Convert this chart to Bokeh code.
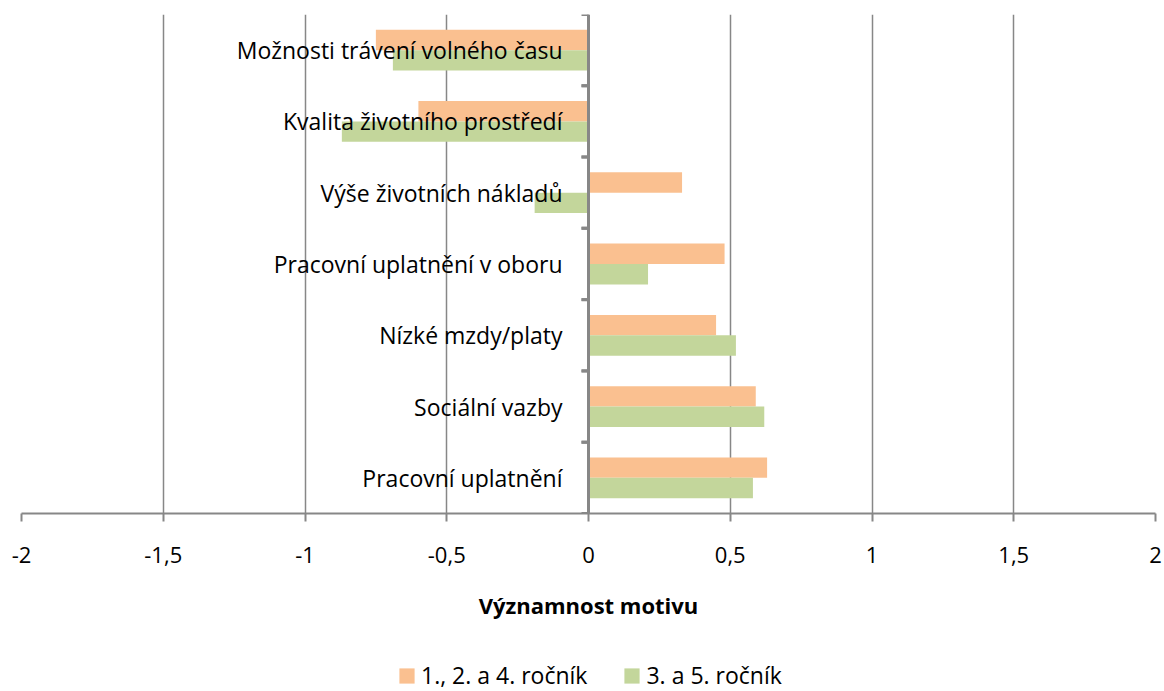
from bokeh.plotting import figure
from bokeh.layouts import column
from bokeh.models import (ColumnDataSource, FactorRange, Range1d, FixedTicker, Span,
                          Legend, LegendItem)
from bokeh.transform import dodge
from bokeh.core.properties import value
from bokeh.embed import file_html
from bokeh.resources import INLINE

# ---- data ----
categories = ["Pracovní uplatnění", "Sociální vazby", "Nízké mzdy/platy",
              "Pracovní uplatnění v oboru", "Výše životních nákladů",
              "Kvalita životního prostředí", "Možnosti trávení volného času"]
series1_name = "1., 2. a 4. ročník"
series2_name = "3. a 5. ročník"
series1 = [0.63, 0.59, 0.45, 0.48, 0.33, -0.60, -0.75]
series2 = [0.58, 0.62, 0.52, 0.21, -0.19, -0.87, -0.69]
tick_values = [-2, -1.5, -1, -0.5, 0, 0.5, 1, 1.5, 2]
tick_labels = ["-2", "-1,5", "-1", "-0,5", "0", "0,5", "1", "1,5", "2"]
x_title = "Významnost motivu"

FONT = "Open Sans"
FS = "22px"
FS_CAT = "23px"
GRAY = "#878787"
ORANGE = "#FAC090"
GREEN = "#C3D69B"

src = ColumnDataSource(dict(cat=categories, s1=series1, s2=series2))

p = figure(width=1164, height=640, output_backend="svg", toolbar_location=None,
           y_range=FactorRange(*categories, range_padding=0),
           x_range=Range1d(-2, 2),
           min_border_left=21, min_border_right=9, min_border_top=14,
           min_border_bottom=127)
p.outline_line_color = None
p.background_fill_color = "white"
p.border_fill_color = "white"

# grid
p.ygrid.visible = False
p.xgrid.ticker = FixedTicker(ticks=tick_values)
p.xgrid.grid_line_color = GRAY
p.xgrid.grid_line_width = 1.5

# axes
p.yaxis.visible = False
ax = p.xaxis[0]
ax.ticker = FixedTicker(ticks=tick_values)
ax.major_label_overrides = {v: l for v, l in zip(tick_values, tick_labels)}
ax.axis_line_color = GRAY
ax.axis_line_width = 2
ax.major_tick_line_color = GRAY
ax.major_tick_line_width = 2
ax.major_tick_out = 8
ax.major_tick_in = 0
ax.minor_tick_line_color = None
ax.major_label_standoff = 25
ax.major_label_text_font = FONT
ax.major_label_text_font_size = FS
ax.major_label_text_color = "black"
ax.axis_label = x_title
ax.axis_label_text_font = FONT
ax.axis_label_text_font_size = FS
ax.axis_label_text_font_style = "bold"
ax.axis_label_text_color = "black"
ax.axis_label_standoff = 24

bh = 0.286
r1 = p.hbar(y=dodge("cat", 0.143, range=p.y_range), left=0, right="s1", height=bh,
            source=src, fill_color=ORANGE, line_color=None)
r2 = p.hbar(y=dodge("cat", -0.143, range=p.y_range), left=0, right="s2", height=bh,
            source=src, fill_color=GREEN, line_color=None)

# zero axis with tick marks on the left
p.add_layout(Span(location=0, dimension="height", line_color=GRAY, line_width=3))
for off in (0.5, -0.5):
    p.ray(x=0, y=dodge("cat", off, range=p.y_range), length=7, length_units="screen",
          angle=3.14159265, source=src, line_color=GRAY, line_width=3)

# category labels next to the zero axis
p.text(x=0, y="cat", text="cat", source=src, x_offset=-26, y_offset=0,
       text_align="right", text_baseline="middle",
       text_font=value(FONT), text_font_size=FS_CAT, text_color="black")

# ---- legend strip below the chart ----
q = figure(width=1164, height=51, output_backend="svg", toolbar_location=None,
           x_range=Range1d(0, 1), y_range=Range1d(0, 1),
           min_border_left=0, min_border_right=0, min_border_top=0,
           min_border_bottom=0)
q.axis.visible = False
q.grid.visible = False
q.outline_line_color = None
# legend swatches only (the row lies outside the visible range)
swatch = ColumnDataSource(dict(y=[-5], l=[0], r=[0.1]))
g1 = q.hbar(y="y", left="l", right="r", height=0.1, source=swatch,
            fill_color=ORANGE, line_color=None)
g2 = q.hbar(y="y", left="l", right="r", height=0.1, source=swatch,
            fill_color=GREEN, line_color=None)
legend = Legend(items=[LegendItem(label=series1_name, renderers=[g1]),
                       LegendItem(label=series2_name, renderers=[g2])],
                orientation="horizontal", location=(376, 0),
                glyph_width=19, glyph_height=19, label_height=19,
                label_standoff=5, spacing=35,
                padding=0, margin=0, border_line_color=None,
                background_fill_alpha=0,
                label_text_font=FONT, label_text_font_size=FS_CAT,
                label_text_color="black")
q.add_layout(legend)

layout = column(p, q, spacing=0)
open("out.html", "w").write(file_html(layout, INLINE))
